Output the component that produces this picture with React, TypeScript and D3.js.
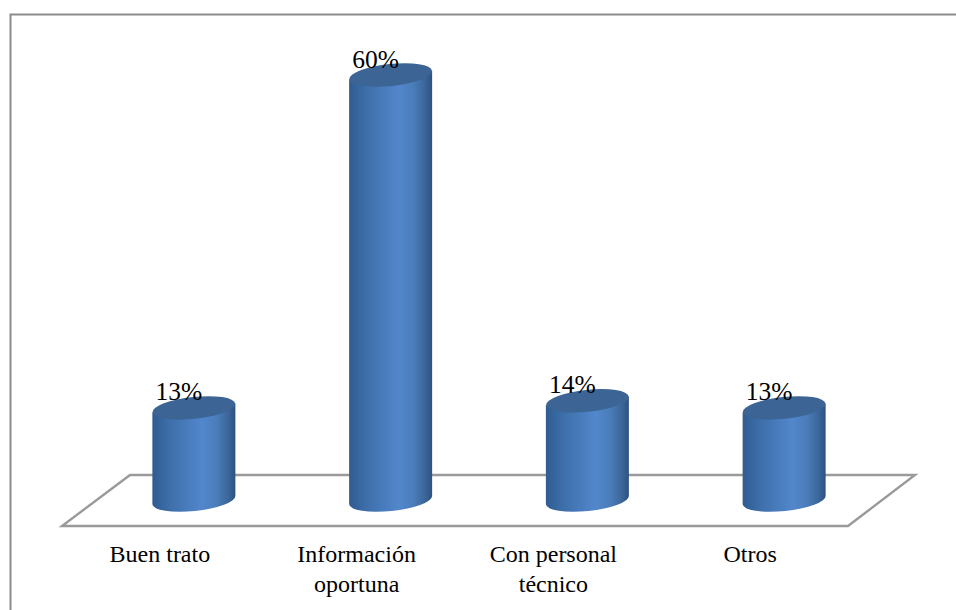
import React from "react";
import * as d3 from "d3";

const categories = ["Buen trato", "Información oportuna", "Con personal técnico", "Otros"];
const categoryLines = [["Buen trato"], ["Información", "oportuna"], ["Con personal", "técnico"], ["Otros"]];
const values = [13, 60, 14, 13];
const labels = ["13%", "60%", "14%", "13%"];

const W = 956, H = 610;
const x = d3.scaleBand<string>().domain(categories).range([95.5, 882.5]).paddingInner(0).paddingOuter(0);
const y = d3.scaleLinear().domain([0, 60]).range([500, 75]);
const font = "'Liberation Serif','Times New Roman',serif";
const floor = d3.line()([[62, 526], [848, 526], [915, 475], [130, 475]]) + "Z";
const rx = 41.5, ry = 11, tilt = -6;

export default function App() {
  return (
    <svg width={W} height={H} style={{ position: "absolute", left: 0, top: 0, background: "#fff" }}>
      <defs>
        <linearGradient id="cyl" x1="0" x2="1" y1="0" y2="0">
          <stop offset="0" stopColor="#2f5c91" />
          <stop offset="0.2" stopColor="#3d6ea9" />
          <stop offset="0.6" stopColor="#5287cc" />
          <stop offset="0.78" stopColor="#4a7cb9" />
          <stop offset="0.92" stopColor="#3a6598" />
          <stop offset="1" stopColor="#2d527f" />
        </linearGradient>
      </defs>
      <path d={`M10.5 610V14.5H${W}`} fill="none" stroke="#8c8c8c" strokeWidth={2} />
      <path d={floor} fill="#fff" stroke="#9a9a9a" strokeWidth={2.4} strokeLinejoin="miter" />
      {categories.map((c, i) => {
        const cx = (x(c) as number) + x.bandwidth() / 2;
        const yt = y(values[i]);
        const yb = y(0);
        const dy = rx * Math.sin((tilt * Math.PI) / 180);
        const body = `M${cx - rx} ${yt - dy}L${cx - rx} ${yb - dy}A${rx} ${ry} ${tilt} 0 0 ${cx + rx} ${yb + dy}L${cx + rx} ${yt + dy}Z`;
        return (
          <g key={c}>
            <path d={body} fill="url(#cyl)" />
            <ellipse cx={cx} cy={yt} rx={rx} ry={ry} transform={`rotate(${tilt} ${cx} ${yt})`} fill="#3c6595" />
            <text x={cx - 15} y={yt - 7.5} textAnchor="middle" fontFamily={font} fontSize={25.5} fill="#000">{labels[i]}</text>
            {categoryLines[i].map((t, k) => (
              <text key={k} x={cx - 34} y={562 + k * 30} textAnchor="middle" fontFamily={font} fontSize={24} fill="#000">{t}</text>
            ))}
          </g>
        );
      })}
    </svg>
  );
}
